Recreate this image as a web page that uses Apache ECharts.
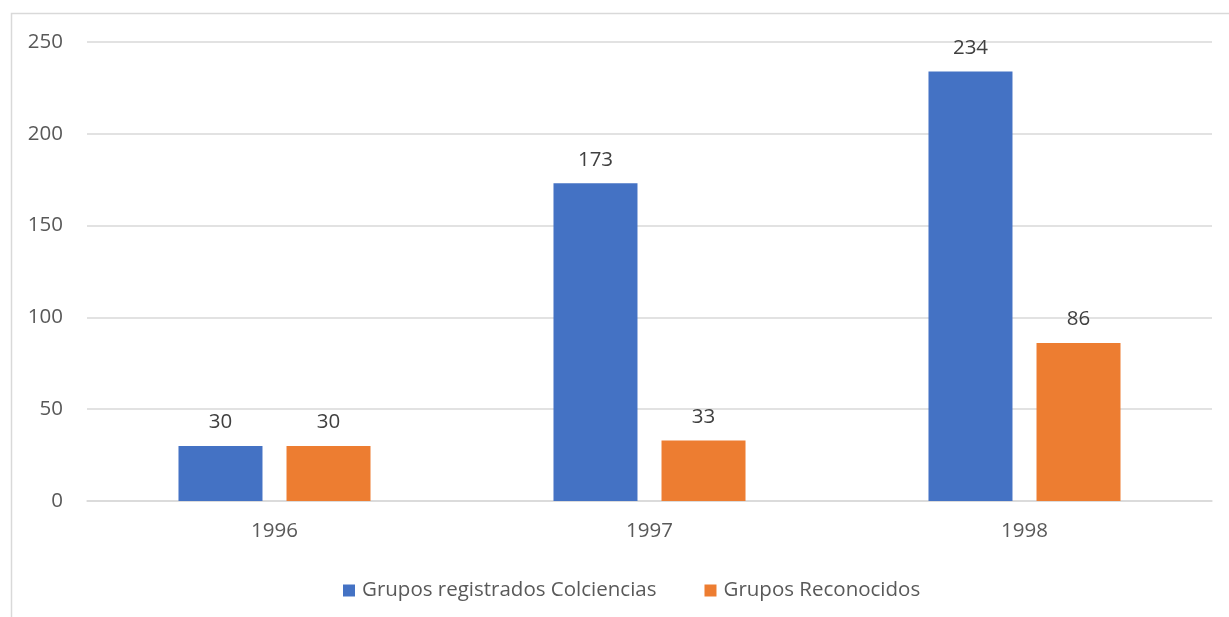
<!DOCTYPE html>
<html>
<head>
<meta charset="utf-8">
<script src="https://cdn.jsdelivr.net/npm/echarts@6/dist/echarts.min.js"></script>
<style>
	html, body { margin: 0; padding: 0; background: #fff; }
	#chart { width: 1229px; height: 617px; }
</style>
</head>
<body>
<div id="chart"></div>
<script>
	// values
	const years = ['1996', '1997', '1998'];
	const registrados = [30, 173, 234];
	const reconocidos = [30, 33, 86];
	const seriesNames = ['Grupos registrados Colciencias', 'Grupos Reconocidos'];

	const textColor = '#595959';
	const fontFamily = '"Open Sans", "Liberation Sans", sans-serif';

	const chart = echarts.init(document.getElementById('chart'));
	chart.setOption({
		animation: false,
		textStyle: { fontFamily: fontFamily, color: textColor },
		graphic: [{
			type: 'rect',
			shape: { x: 11.5, y: 13.5, width: 1300, height: 700 },
			style: { fill: 'none', stroke: '#d9d9d9', lineWidth: 1.5 },
			silent: true
		}],
		grid: { left: 87, right: 17, top: 42, bottom: 116 },
		legend: {
			data: seriesNames,
			left: 338,
			top: 575,
			itemWidth: 12,
			itemHeight: 12,
			itemGap: 48,
			icon: 'rect',
			textStyle: { fontSize: 20.5, color: textColor, fontFamily: fontFamily, padding: [0, 0, 0, 2] }
		},
		xAxis: {
			type: 'category',
			data: years,
			axisLine: { lineStyle: { color: '#d9d9d9', width: 1.5 } },
			axisTick: { show: false },
			axisLabel: { fontSize: 20.5, color: textColor, margin: 20 }
		},
		yAxis: {
			type: 'value',
			min: 0,
			max: 250,
			interval: 50,
			axisLine: { show: false },
			axisTick: { show: false },
			splitLine: { lineStyle: { color: '#d9d9d9', width: 1.5 } },
			axisLabel: { fontSize: 20.5, color: textColor, margin: 24 }
		},
		series: [
			{
				name: seriesNames[0],
				type: 'bar',
				data: registrados,
				barWidth: '22.4%',
				barGap: '28.6%',
				itemStyle: { color: '#4472c4' },
				label: { show: true, position: 'top', distance: 13, fontSize: 20.5, color: '#404040' }
			},
			{
				name: seriesNames[1],
				type: 'bar',
				data: reconocidos,
				barWidth: '22.4%',
				itemStyle: { color: '#ed7d31' },
				label: { show: true, position: 'top', distance: 13, fontSize: 20.5, color: '#404040' }
			}
		]
	});
</script>
</body>
</html>
